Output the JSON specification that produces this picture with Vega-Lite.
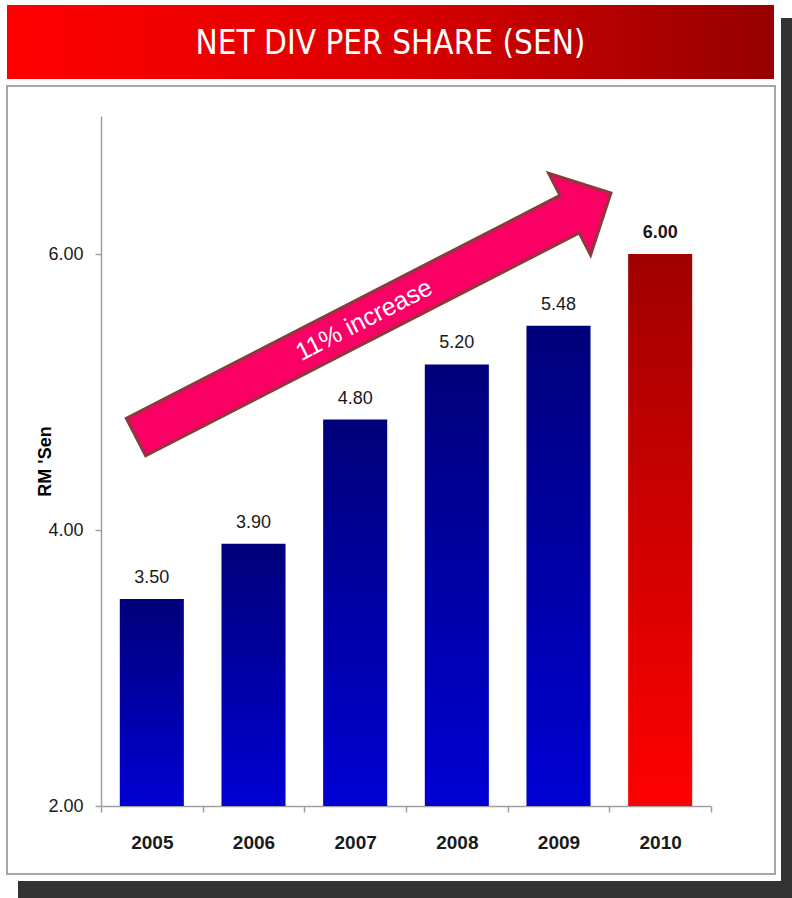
{
  "$schema": "https://vega.github.io/schema/vega-lite/v6.json",
  "background": "white",
  "padding": {"left": 6, "top": 5, "right": 0, "bottom": 0},
  "config": {"view": {"stroke": null}, "font": "Liberation Sans"},
  "spacing": 0,
  "hconcat": [
    {
      "spacing": 6,
      "vconcat": [
        {
          "width": 767,
          "height": 74,
          "view": {
            "stroke": null,
            "fill": {"gradient": "linear", "x1": 0, "y1": 0, "x2": 1, "y2": 0,
              "stops": [{"offset": 0, "color": "#ff0000"}, {"offset": 0.5, "color": "#dc0000"}, {"offset": 1, "color": "#960000"}]}
          },
          "data": {"values": [{"title": "NET DIV PER SHARE (SEN)"}]},
          "mark": {"type": "text", "color": "white", "fontSize": 33, "fontWeight": 500, "font": "Liberation Sans Narrow, DejaVu Sans Condensed, sans-serif", "align": "center", "baseline": "middle", "dy": 2},
          "encoding": {"text": {"field": "title", "type": "nominal"}}
        },
        {
          "width": 768,
          "height": 788,
          "view": {"fill": "white", "stroke": "#a6a6a6", "strokeWidth": 2},
          "resolve": {"scale": {"x": "independent"}},
          "layer": [
            {
              "data": {"values": [
                {"year": "2005", "value": 3.50},
                {"year": "2006", "value": 3.90},
                {"year": "2007", "value": 4.80},
                {"year": "2008", "value": 5.20},
                {"year": "2009", "value": 5.48},
                {"year": "2010", "value": 6.00}
              ]},
              "encoding": {
                "x": {"field": "year", "type": "nominal", "sort": null,
                  "scale": {"type": "band", "range": [94, 704], "paddingInner": 0, "paddingOuter": 0},
                  "axis": {"orient": "bottom", "offset": -68, "title": null, "labelAngle": 0,
                    "domainColor": "#a0a0a0", "domainWidth": 1.5, "tickColor": "#a0a0a0", "tickWidth": 1.5, "tickSize": 6,
                    "tickBand": "extent", "labelFontSize": 19, "labelFontWeight": "bold", "labelColor": "#1a1a1a", "labelPadding": 21}},
                "y": {"field": "value", "type": "quantitative",
                  "scale": {"domain": [2, 7], "range": [720, 30], "zero": false, "nice": false},
                  "axis": {"orient": "left", "offset": -94, "values": [2, 4, 6], "format": ".2f", "grid": false,
                    "domainColor": "#a0a0a0", "domainWidth": 1.5, "tickColor": "#a0a0a0", "tickWidth": 1.5, "tickSize": 6,
                    "labelFontSize": 18, "labelColor": "#1a1a1a", "labelPadding": 12,
                    "title": "RM 'Sen", "titleFontSize": 18, "titleFontWeight": "bold", "titleColor": "#000000",
                    "titleAngle": -90, "titleBaseline": "bottom", "titleAlign": "center", "titleX": -47, "titleY": 375}}
              },
              "layer": [
                {
                  "mark": {"type": "bar", "width": {"band": 0.63}},
                  "encoding": {
                    "y2": {"datum": 2},
                    "color": {
                      "condition": {"test": "datum.year == '2010'",
                        "value": {"gradient": "linear", "x1": 0, "y1": 0, "x2": 0, "y2": 1,
                          "stops": [{"offset": 0, "color": "#a00000"}, {"offset": 1, "color": "#ff0000"}]}},
                      "value": {"gradient": "linear", "x1": 0, "y1": 0, "x2": 0, "y2": 1,
                        "stops": [{"offset": 0, "color": "#00007a"}, {"offset": 1, "color": "#0000d4"}]}
                    }
                  }
                },
                {
                  "transform": [{"filter": "datum.year != '2010'"}],
                  "mark": {"type": "text", "baseline": "bottom", "dy": -12, "fontSize": 18, "color": "#1a1a1a"},
                  "encoding": {
                    "text": {"field": "value", "type": "quantitative", "format": ".2f"}
                  }
                },
                {
                  "transform": [{"filter": "datum.year == '2010'"}],
                  "mark": {"type": "text", "baseline": "bottom", "dy": -12, "fontSize": 18, "fontWeight": "bold", "color": "#1a1a1a"},
                  "encoding": {
                    "text": {"field": "value", "type": "quantitative", "format": ".2f"}
                  }
                }
              ]
            },
            {
              "data": {"values": [
                {"ax": 2.68, "ay": 5.558, "tx": 2.587, "ty": 5.522, "label": "11% increase"}
              ]},
              "layer": [
                {
                  "mark": {"type": "point", "filled": true, "opacity": 1,
                    "shape": "M-1,-0.079L0.826,-0.079L0.826,-0.172L1,0L0.826,0.172L0.826,0.079L-1,0.079Z",
                    "size": 285156, "angle": -27.2,
                    "color": "#fa0064", "fill": "#fa0064", "stroke": "#8b3a3a", "strokeWidth": 3, "strokeOpacity": 1, "fillOpacity": 1},
                  "encoding": {
                    "x": {"field": "ax", "type": "quantitative", "scale": {"domain": [0, 6], "range": [94, 704], "zero": false, "nice": false}, "axis": null},
                    "y": {"field": "ay", "type": "quantitative", "scale": {"domain": [2, 7], "range": [720, 30], "zero": false, "nice": false}}
                  }
                },
                {
                  "mark": {"type": "text", "angle": -27.2, "color": "white", "fontSize": 25, "align": "center", "baseline": "middle"},
                  "encoding": {
                    "x": {"field": "tx", "type": "quantitative", "scale": {"domain": [0, 6], "range": [94, 704], "zero": false, "nice": false}, "axis": null},
                    "y": {"field": "ty", "type": "quantitative", "scale": {"domain": [2, 7], "range": [720, 30], "zero": false, "nice": false}},
                    "text": {"field": "label", "type": "nominal"}
                  }
                }
              ]
            }
          ]
        },
        {
          "spacing": 6,
          "hconcat": [
            {"width": 5, "height": 18, "view": {"stroke": null}, "data": {"values": [{}]}, "mark": {"type": "text", "text": ""}},
            {"width": 763, "height": 18, "view": {"stroke": null, "fill": "#333333"}, "data": {"values": [{}]}, "mark": {"type": "text", "text": ""}}
          ]
        }
      ]
    },
    {
      "spacing": 0,
      "vconcat": [
        {"width": 12, "height": 13, "view": {"stroke": null}, "data": {"values": [{}]}, "mark": {"type": "text", "text": ""}},
        {"width": 12, "height": 880, "view": {"stroke": null, "fill": "#333333"}, "data": {"values": [{}]}, "mark": {"type": "text", "text": ""}}
      ]
    }
  ]
}
